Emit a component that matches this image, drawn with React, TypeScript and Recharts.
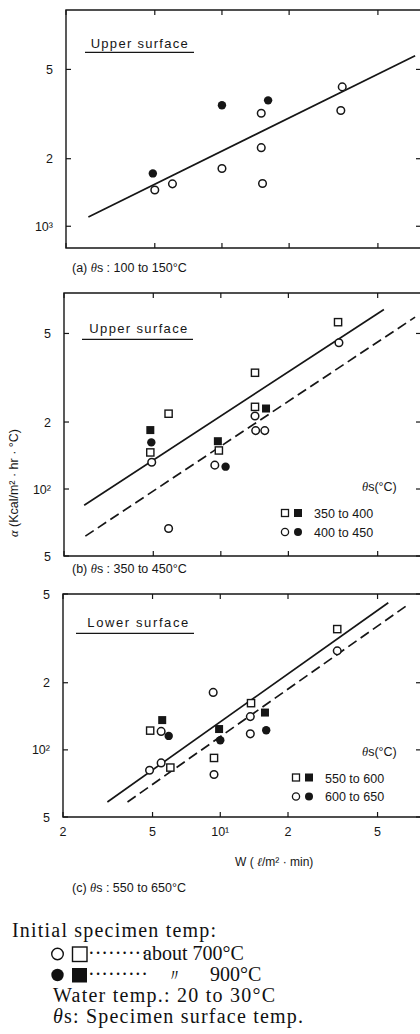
import React from "react";
import { ScatterChart, Scatter, XAxis, YAxis, ReferenceArea } from "recharts";

type Pt = { w: number; a: number };

// W (l/m2.min) axis, shared by the three panels
const W_DOMAIN: [number, number] = [2, 78];
const W_TICKS = [2, 5, 10, 20, 50];
const W_LABELS = ["2", "5", "10¹", "2", "5"];

// (a) upper surface, θs 100 to 150°C
const A_TICKS = [1000, 2000, 5000];
const A_LABELS = ["10³", "2", "5"];
const aOpenCircle: Pt[] = [
  { w: 5.0, a: 1450 }, { w: 6.0, a: 1545 }, { w: 10, a: 1810 }, { w: 15, a: 3190 },
  { w: 15, a: 2240 }, { w: 15.2, a: 1550 }, { w: 34.6, a: 4180 }, { w: 34.1, a: 3280 },
];
const aFilledCircle: Pt[] = [{ w: 4.9, a: 1720 }, { w: 10, a: 3460 }, { w: 16.1, a: 3640 }];
const aFit: Pt[] = [{ w: 2.52, a: 1100 }, { w: 73.4, a: 5750 }];

// (b) upper surface, θs 350 to 450°C
const B_TICKS = [50, 100, 200, 500];
const B_LABELS = ["5", "10²", "2", "5"];
const bOpenSquare: Pt[] = [
  { w: 33.3, a: 562 }, { w: 14.2, a: 333 }, { w: 14.2, a: 234 },
  { w: 5.85, a: 218 }, { w: 4.85, a: 146 }, { w: 9.8, a: 149 },
];
const bFilledSquare: Pt[] = [{ w: 4.85, a: 184 }, { w: 15.9, a: 230 }, { w: 9.7, a: 164 }];
const bOpenCircle: Pt[] = [
  { w: 33.6, a: 454 }, { w: 14.2, a: 213 }, { w: 14.3, a: 183 }, { w: 15.7, a: 183 },
  { w: 4.92, a: 132 }, { w: 9.4, a: 128 }, { w: 5.85, a: 66.5 },
];
const bFilledCircle: Pt[] = [{ w: 4.9, a: 162 }, { w: 10.5, a: 126 }];
const bFitSolid: Pt[] = [{ w: 2.46, a: 84.6 }, { w: 53.3, a: 641 }];
const bFitDashed: Pt[] = [{ w: 2.49, a: 61.4 }, { w: 73.4, a: 592 }];

// (c) lower surface, θs 550 to 650°C
const C_TICKS = [50, 100, 200, 500];
const C_LABELS = ["5", "10²", "2", "5"];
const cOpenSquare: Pt[] = [
  { w: 33.1, a: 348 }, { w: 13.7, a: 162 }, { w: 4.88, a: 122 }, { w: 6.0, a: 83.3 }, { w: 9.38, a: 92 },
];
const cFilledSquare: Pt[] = [{ w: 5.52, a: 136 }, { w: 15.8, a: 147 }, { w: 9.88, a: 124 }];
const cOpenCircle: Pt[] = [
  { w: 33.1, a: 278 }, { w: 9.3, a: 181 }, { w: 13.6, a: 141 }, { w: 13.6, a: 118 },
  { w: 5.46, a: 121 }, { w: 4.85, a: 81 }, { w: 5.46, a: 87.4 }, { w: 9.38, a: 77.5 },
];
const cFilledCircle: Pt[] = [{ w: 5.9, a: 115.5 }, { w: 16.0, a: 122.5 }, { w: 10.0, a: 110.5 }];
const cFitSolid: Pt[] = [{ w: 3.15, a: 58.4 }, { w: 55.8, a: 457 }];
const cFitDashed: Pt[] = [{ w: 3.87, a: 58.4 }, { w: 67.9, a: 446 }];

const INK = "#161616";
const SANS = "'Liberation Sans', Arial, Helvetica, sans-serif";
const SERIF = "'Liberation Serif', 'Times New Roman', serif";
const PLOT_RIGHT = 421;

const openCircle = (p: any) => <circle cx={p.cx} cy={p.cy} r={3.8} fill="#fff" stroke={INK} strokeWidth={1.5} />;
const filledCircle = (p: any) => <circle cx={p.cx} cy={p.cy} r={4.2} fill={INK} />;
const openSquare = (p: any) => (
  <rect x={p.cx - 3.6} y={p.cy - 3.6} width={7.2} height={7.2} fill="#fff" stroke={INK} strokeWidth={1.4} />
);
const filledSquare = (p: any) => <rect x={p.cx - 4} y={p.cy - 4} width={8} height={8} fill={INK} />;
const noDot = () => <g />;

type PanelProps = {
  top: number;
  height: number;
  left: number;
  mTop: number;
  mBottom: number;
  yDomain: [number, number];
  yTicks: number[];
  yLabels: string[];
  showX?: boolean;
  openC: Pt[];
  filledC: Pt[];
  openS?: Pt[];
  filledS?: Pt[];
  fitSolid: Pt[];
  fitDashed?: Pt[];
};

function Panel(p: PanelProps) {
  const xTick = (t: any) => {
    const i = W_TICKS.indexOf(t.payload.value);
    return (
      <g>
        <line x1={t.x} x2={t.x} y1={t.y} y2={t.y - 5} stroke={INK} strokeWidth={1.2} />
        <line x1={t.x} x2={t.x} y1={p.mTop} y2={p.mTop + 5} stroke={INK} strokeWidth={1.2} />
        {p.showX && (
          <text x={t.x} y={t.y + 19} textAnchor="middle" fontFamily={SANS} fontSize={12.5} fill={INK}>
            {W_LABELS[i]}
          </text>
        )}
      </g>
    );
  };
  const yTick = (t: any) => {
    const i = p.yTicks.indexOf(t.payload.value);
    return (
      <g>
        <line x1={t.x} x2={t.x + 5} y1={t.y} y2={t.y} stroke={INK} strokeWidth={1.2} />
        <line x1={PLOT_RIGHT - 5} x2={PLOT_RIGHT} y1={t.y} y2={t.y} stroke={INK} strokeWidth={1.2} />
        <text x={t.x - 13} y={t.y + 4.5} textAnchor="end" fontFamily={SANS} fontSize={12.5} fill={INK}>
          {p.yLabels[i]}
        </text>
      </g>
    );
  };
  return (
    <div style={{ position: "absolute", left: 0, top: p.top }}>
      <ScatterChart
        width={PLOT_RIGHT + 1}
        height={p.height}
        margin={{ top: p.mTop, right: 1, bottom: p.mBottom, left: 0 }}
      >
        <XAxis
          dataKey="w"
          type="number"
          scale="log"
          domain={W_DOMAIN}
          allowDataOverflow
          ticks={W_TICKS}
          interval={0}
          height={20}
          axisLine={false}
          tickLine={false}
          tickSize={0}
          tickMargin={0}
          tick={xTick}
        />
        <YAxis
          dataKey="a"
          type="number"
          scale="log"
          domain={p.yDomain}
          allowDataOverflow
          ticks={p.yTicks}
          interval={0}
          width={p.left}
          axisLine={false}
          tickLine={false}
          tickSize={0}
          tickMargin={0}
          tick={yTick}
        />
        <ReferenceArea
          x1={W_DOMAIN[0]}
          x2={W_DOMAIN[1]}
          y1={p.yDomain[0]}
          y2={p.yDomain[1]}
          ifOverflow="visible"
          fill="none"
          fillOpacity={0}
          stroke={INK}
          strokeWidth={1.4}
        />
        <Scatter
          data={p.fitSolid}
          line={{ stroke: INK, strokeWidth: 1.7 }}
          lineType="joint"
          shape={noDot}
          isAnimationActive={false}
        />
        {p.fitDashed && (
          <Scatter
            data={p.fitDashed}
            line={{ stroke: INK, strokeWidth: 1.7, strokeDasharray: "10 5" }}
            lineType="joint"
            shape={noDot}
            isAnimationActive={false}
          />
        )}
        {p.openS && <Scatter data={p.openS} shape={openSquare} isAnimationActive={false} />}
        {p.filledS && <Scatter data={p.filledS} shape={filledSquare} isAnimationActive={false} />}
        <Scatter data={p.openC} shape={openCircle} isAnimationActive={false} />
        <Scatter data={p.filledC} shape={filledCircle} isAnimationActive={false} />
      </ScatterChart>
    </div>
  );
}

const Theta = () => (
  <tspan fontFamily={SERIF} fontStyle="italic">
    θ
  </tspan>
);

function Legend({ x, y, r1, r2 }: { x: number; y: number; r1: string; r2: string }) {
  return (
    <g fontFamily={SANS} fontSize={12.5} fill={INK}>
      <text x={362} y={y}>
        <Theta />s(°C)
      </text>
      <rect x={x - 3.5} y={y + 18.5} width={7} height={7} fill="#fff" stroke={INK} strokeWidth={1.3} />
      <rect x={x + 9} y={y + 18} width={8} height={8} fill={INK} />
      <text x={x + 29} y={y + 27}>{r1}</text>
      <circle cx={x} cy={y + 41} r={3.6} fill="#fff" stroke={INK} strokeWidth={1.3} />
      <circle cx={x + 13} cy={y + 41} r={4} fill={INK} />
      <text x={x + 29} y={y + 45.5}>{r2}</text>
    </g>
  );
}

function Overlay() {
  return (
    <svg
      width={420}
      height={1034}
      style={{ position: "absolute", left: 0, top: 0, pointerEvents: "none" }}
    >
      <g fontFamily={SANS} fill={INK}>
        <text x={90.7} y={48} fontSize={13} textLength={97}>Upper surface</text>
        <line x1={85} x2={194} y1={52.3} y2={52.3} stroke={INK} strokeWidth={1.2} />
        <text x={72} y={271.5} fontSize={12.5}>
          (a) <Theta />s : 100 to 150°C
        </text>

        <text x={89.3} y={333} fontSize={13} textLength={98}>Upper surface</text>
        <line x1={82} x2={193} y1={339.3} y2={339.3} stroke={INK} strokeWidth={1.2} />
        <text x={72} y={572.5} fontSize={12.5}>
          (b) <Theta />s : 350 to 450°C
        </text>

        <text x={87.3} y={626.5} fontSize={13} textLength={101}>Lower surface</text>
        <line x1={76} x2={194} y1={633.3} y2={633.3} stroke={INK} strokeWidth={1.2} />

        <text x={235} y={866} fontSize={12}>
          W ( <tspan fontFamily={SERIF} fontStyle="italic">ℓ</tspan>/m² · min)
        </text>
        <text x={72} y={891.5} fontSize={12.5}>
          (c) <Theta />s : 550 to 650°C
        </text>

        <text transform="translate(18,483) rotate(-90)" textAnchor="middle" fontSize={12.5}>
          <tspan fontFamily={SERIF} fontStyle="italic">α</tspan> (Kcal/m² · hr · °C)
        </text>
      </g>

      <Legend x={285} y={491} r1="350 to 400" r2="400 to 450" />
      <Legend x={296} y={755.5} r1="550 to 600" r2="600 to 650" />

      <g fontFamily={SERIF} fontSize={20} fill="#111">
        <text x={12} y={937} textLength={204}>Initial specimen temp:</text>
        <circle cx={57.5} cy={954} r={5.8} fill="#fff" stroke="#111" strokeWidth={1.4} />
        <rect x={72.5} y={947} width={14.5} height={14.5} fill="#fff" stroke="#111" strokeWidth={1.4} />
        <text x={88} y={960}>
          ·········<tspan x={143}>about 700°C</tspan>
        </text>
        <circle cx={57.5} cy={975} r={6.2} fill="#111" />
        <rect x={72} y={968} width={15} height={14.5} fill="#111" />
        <text x={88} y={981}>
          ·········<tspan x={166} fontSize={17}>〃</tspan>
          <tspan x={210}>900°C</tspan>
        </text>
        <text x={53} y={1002} textLength={222}>Water temp.: 20 to 30°C</text>
        <text x={53} y={1023} textLength={250}>
          <tspan fontStyle="italic">θ</tspan>s: Specimen surface temp.
        </text>
      </g>
    </svg>
  );
}

export default function App() {
  return (
    <div style={{ position: "absolute", left: 0, top: 0, width: 420, height: 1034, overflow: "hidden", background: "#fff" }}>
      <Panel
        top={0}
        height={270}
        left={66}
        mTop={10}
        mBottom={2}
        yDomain={[800, 9200]}
        yTicks={A_TICKS}
        yLabels={A_LABELS}
        openC={aOpenCircle}
        filledC={aFilledCircle}
        fitSolid={aFit}
      />
      <Panel
        top={280}
        height={298}
        left={64}
        mTop={13}
        mBottom={2}
        yDomain={[50, 760]}
        yTicks={B_TICKS}
        yLabels={B_LABELS}
        openC={bOpenCircle}
        filledC={bFilledCircle}
        openS={bOpenSquare}
        filledS={bFilledSquare}
        fitSolid={bFitSolid}
        fitDashed={bFitDashed}
      />
      <Panel
        top={580}
        height={277}
        left={63}
        mTop={14}
        mBottom={20}
        yDomain={[50, 500]}
        yTicks={C_TICKS}
        yLabels={C_LABELS}
        showX
        openC={cOpenCircle}
        filledC={cFilledCircle}
        openS={cOpenSquare}
        filledS={cFilledSquare}
        fitSolid={cFitSolid}
        fitDashed={cFitDashed}
      />
      <Overlay />
    </div>
  );
}
